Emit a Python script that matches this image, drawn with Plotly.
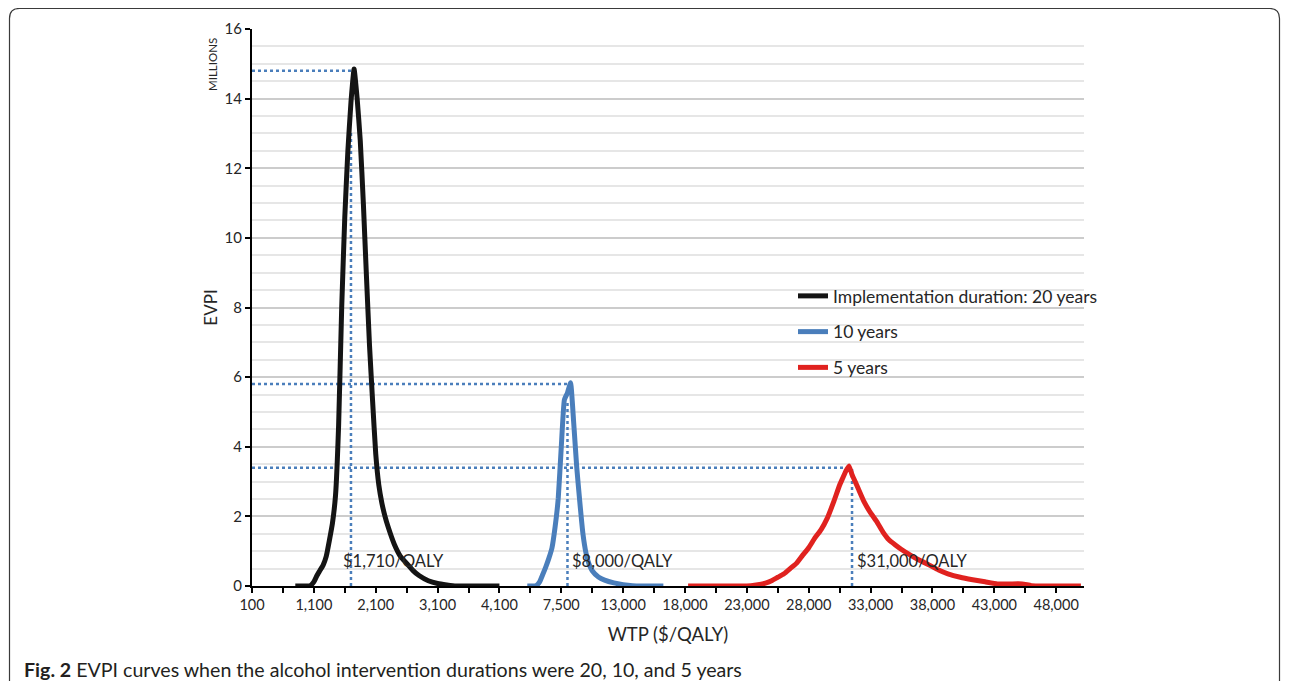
import plotly.graph_objects as go

# ---------------- data ----------------
# Category (WTP, $/QALY) axis as in the original spreadsheet chart
seg_a = list(range(100, 4101, 50))
seg_b = [4100 + 170 * k for k in range(1, 21)]
seg_c = [7500 + 275 * k for k in range(1, 21)]
seg_d = [13000 + 250 * k for k in range(1, 21)]
seg_e = [18000 + 250 * k for k in range(1, 129)]
WTP_CATEGORIES = seg_a + seg_b + seg_c + seg_d + seg_e

TICK_LABEL_WTP = [100, 1100, 2100, 3100, 4100, 7500, 13000, 18000, 23000,
                  28000, 33000, 38000, 43000, 48000]

# Implementation duration: 20 years (EVPI, millions)
wtp_20y = [800, 900, 1000, 1050, 1100, 1150, 1200, 1250, 1300, 1350, 1400, 1450,
           1500, 1550, 1600, 1650, 1700, 1750, 1800, 1850, 1900, 1950, 2000, 2050,
           2100, 2150, 2200, 2250, 2300, 2400, 2500, 2600, 2700, 2800, 2950, 3100,
           3250, 3400, 3600, 3850, 4100]
evpi_20y = [0, 0, 0, 0.02, 0.12, 0.3, 0.45, 0.6, 0.85, 1.3, 1.8, 2.6,
            4.6, 8.0, 10.6, 12.5, 13.9, 14.85, 14.0, 12.8, 11.0, 8.9, 6.9, 5.3,
            3.8, 2.9, 2.38, 2.0, 1.7, 1.2, 0.85, 0.65, 0.45, 0.3, 0.15, 0.07,
            0.03, 0, 0, 0, 0]

# 10 years
wtp_10y = [5630, 5970, 6140, 6310, 6480, 6650, 6820, 6990, 7160, 7330,
           7500, 7775, 8050, 8325, 8600, 8875, 9150, 9425, 9700, 9975,
           10250, 10800, 11350, 12175, 13000, 13750, 14500, 16250]
evpi_10y = [0, 0, 0.02, 0.12, 0.33, 0.55, 0.8, 1.1, 1.7, 2.5,
            4.0, 5.35, 5.55, 5.84, 4.7, 3.4, 2.4, 1.5, 0.94, 0.62,
            0.44, 0.26, 0.17, 0.09, 0.04, 0.01, 0, 0]

# 5 years
wtp_5y = [18250, 20500, 23000, 23750, 24500, 25000, 25500, 26000, 26500, 27000,
          27500, 28000, 28500, 29000, 29500, 30000, 30500, 30750, 31000, 31250,
          31500, 31750, 32000, 32500, 33000, 33500, 34000, 34500, 35000, 35500,
          36250, 37000, 37750, 38500, 39250, 40250, 41250, 42250, 43250, 44250,
          45250, 46000, 47000, 48000, 49000, 50000]
evpi_5y = [0, 0, 0, 0.03, 0.08, 0.15, 0.25, 0.35, 0.5, 0.65,
           0.88, 1.1, 1.38, 1.62, 1.95, 2.4, 2.9, 3.1, 3.3, 3.45,
           3.2, 3.0, 2.8, 2.4, 2.1, 1.85, 1.55, 1.32, 1.18, 1.05,
           0.88, 0.73, 0.6, 0.46, 0.35, 0.25, 0.18, 0.12, 0.06, 0.06,
           0.06, 0.01, 0, 0, 0, 0]

# optimal-WTP reference lines
REF_LABELS = ["$1,710/QALY", "$8,000/QALY", "$31,000/QALY"]
REF_WTP = [1700, 8050, 31500]
REF_VERTICAL_TOP = [13.1, 5.26, 3.43]
REF_LEVEL = [14.8, 5.8, 3.4]
REF_LEVEL_END_WTP = [1700, 8325, 31250]
REF_LABEL_EVPI = 0.72

SERIES_NAMES = ["Implementation duration: 20 years", "10 years", "5 years"]
SERIES_COLORS = ["#141414", "#4a7ebb", "#e0221f"]

# ---------------- figure ----------------
cats = [str(v) for v in WTP_CATEGORIES]
for arr in (wtp_20y, wtp_10y, wtp_5y, REF_WTP, REF_LEVEL_END_WTP):
    for v in arr:
        assert v in WTP_CATEGORIES, v

FONT = "Lato, 'Open Sans', sans-serif"
TXT = "#262626"
REF_COLOR = "#4a7ebb"

fig = go.Figure()

# dotted reference lines (drawn first, under the curves)
for wtp, top, level, end in zip(REF_WTP, REF_VERTICAL_TOP, REF_LEVEL, REF_LEVEL_END_WTP):
    fig.add_trace(go.Scatter(x=[str(wtp), str(wtp)], y=[0, top], mode="lines",
                             line=dict(color=REF_COLOR, width=2.5, dash="dot"),
                             showlegend=False, hoverinfo="skip"))
    fig.add_trace(go.Scatter(x=[cats[0], str(end)], y=[level, level], mode="lines",
                             line=dict(color=REF_COLOR, width=2.5, dash="dot"),
                             showlegend=False, hoverinfo="skip"))

for i, (xw, yv) in enumerate([(wtp_20y, evpi_20y), (wtp_10y, evpi_10y), (wtp_5y, evpi_5y)]):
    fig.add_trace(go.Scatter(x=[str(v) for v in xw], y=yv, mode="lines",
                             name=SERIES_NAMES[i], legendgroup=f"g{i}",
                             line=dict(color=SERIES_COLORS[i], width=5,
                                       shape="spline", smoothing=0.4)))

tick_marks = cats[::10]
tick_text = [f"{v:,}" if v in TICK_LABEL_WTP else "" for v in WTP_CATEGORIES[::10]]

# page has an 8px body margin: lay out in page pixels, shifted by OFF,
# and keep the figure small enough not to overflow the 1289x689 window
OFF = 8
W, H = 1289 - 2 * OFF, 689 - 2 * OFF
L, T = 252 - OFF, 29 - OFF
pw, ph = 832, 557
R, B = W - L - pw, H - T - ph


def px(X):
    return (X - OFF - L) / pw


def py(Y):
    return (T + ph - (Y - OFF)) / ph


annotations = []
for lab, wtp, xs in zip(REF_LABELS, REF_WTP, [-10, 3, 3]):
    annotations.append(dict(x=cats.index(str(wtp)), y=REF_LABEL_EVPI, xref="x", yref="y",
                            text=lab, showarrow=False, xanchor="left", yanchor="middle",
                            xshift=xs, font=dict(family=FONT, size=16.5, color=TXT)))

annotations.append(dict(x=px(212), y=py(65), xref="paper", yref="paper",
                        text="MILLIONS", textangle=-90, showarrow=False,
                        xanchor="center", yanchor="middle",
                        font=dict(family=FONT, size=11.5, color=TXT)))
annotations.append(dict(x=px(22), y=py(669), xref="paper", yref="paper",
                        text="<b>Fig. 2</b> EVPI curves when the alcohol intervention durations were 20, 10, and 5 years",
                        showarrow=False, xanchor="left", yanchor="middle",
                        font=dict(family=FONT, size=19.6, color="#231f20")))

# rounded border around the figure (bottom edge lies below the visible page)
x0, x1, y0, y1, r = 9.5, 1279.5, 8.5, 720, 10
path = (f"M {px(x0)},{py(y1)} L {px(x0)},{py(y0 + r)} "
        f"Q {px(x0)},{py(y0)} {px(x0 + r)},{py(y0)} "
        f"L {px(x1 - r)},{py(y0)} Q {px(x1)},{py(y0)} {px(x1)},{py(y0 + r)} "
        f"L {px(x1)},{py(y1)}")

fig.update_layout(
    width=W, height=H,
    margin=dict(l=L, r=R, t=T, b=B),
    paper_bgcolor="white", plot_bgcolor="white",
    font=dict(family=FONT, color=TXT),
    showlegend=True,
    legend=dict(x=px(793), y=py(278), xanchor="left", yanchor="top",
                font=dict(family=FONT, size=17.5, color=TXT),
                bgcolor="rgba(0,0,0,0)", tracegroupgap=10, itemwidth=30),
    xaxis=dict(type="category", categoryorder="array", categoryarray=cats,
               range=[0, len(cats)], tickmode="array", tickvals=tick_marks,
               ticktext=tick_text, tickangle=0, ticks="outside", ticklen=5, tickwidth=1.5,
               tickcolor="black", showline=True, linecolor="black", linewidth=2,
               showgrid=False, zeroline=False,
               tickfont=dict(family=FONT, size=14.5, color=TXT),
               title=dict(text="WTP ($/QALY)", font=dict(family=FONT, size=18.5, color=TXT),
                          standoff=16)),
    yaxis=dict(range=[0, 16], dtick=2, tick0=0, ticks="outside", ticklen=5, tickwidth=1.5,
               tickcolor="black", showline=True, linecolor="black", linewidth=2,
               showgrid=True, gridcolor="#cccccc", gridwidth=1.5, zeroline=False,
               minor=dict(dtick=0.5, showgrid=True, gridcolor="#e6e6e6", gridwidth=1.5),
               tickfont=dict(family=FONT, size=15, color=TXT),
               title=dict(text="EVPI", font=dict(family=FONT, size=17, color=TXT),
                          standoff=3)),
    annotations=annotations,
    shapes=[dict(type="path", xref="paper", yref="paper", path=path,
                 line=dict(color="#3a3a3a", width=1.2), layer="below")],
)

fig.write_html("out.html")
